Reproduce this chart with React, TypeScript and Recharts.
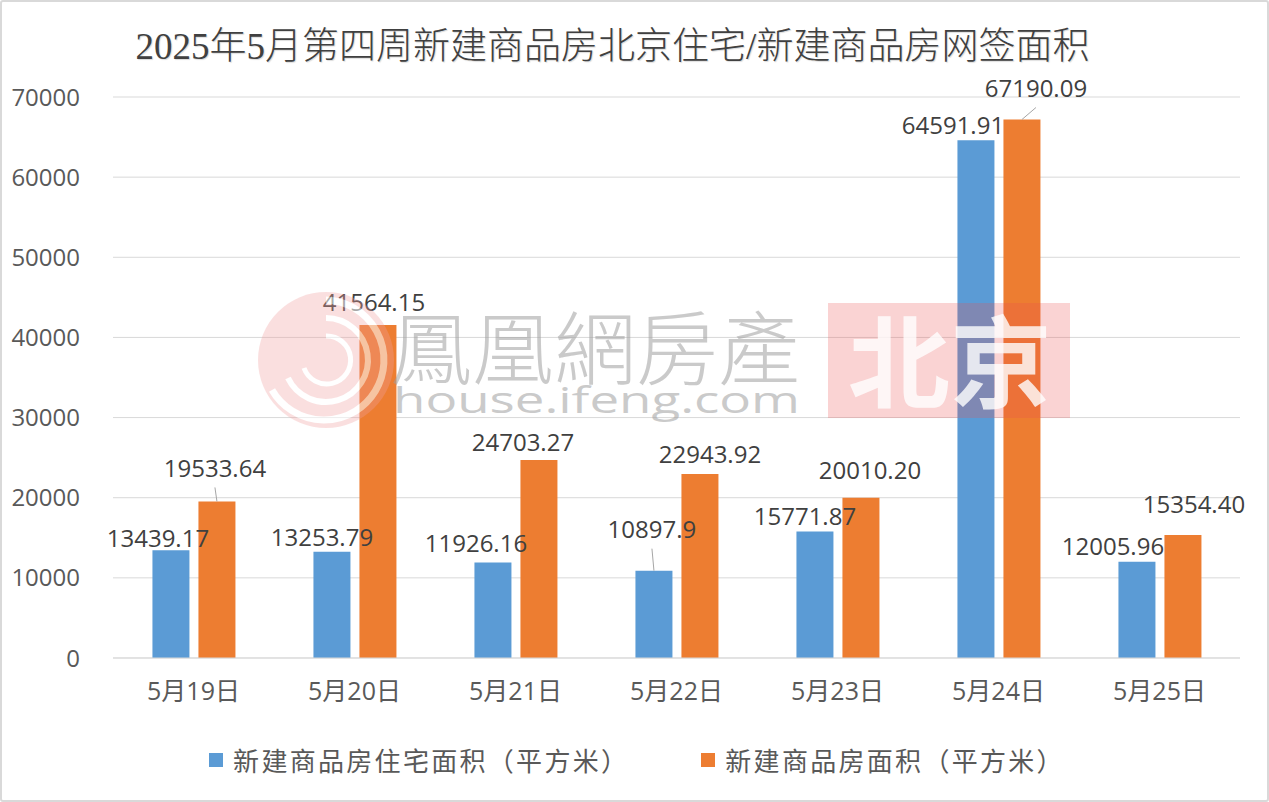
import React from 'react';
import { BarChart, Bar, XAxis, YAxis, CartesianGrid, LabelList, Legend } from 'recharts';

const categories = ['5月19日', '5月20日', '5月21日', '5月22日', '5月23日', '5月24日', '5月25日'];
const residentialArea = [13439.17, 13253.79, 11926.16, 10897.9, 15771.87, 64591.91, 12005.96];
const totalArea = [19533.64, 41564.15, 24703.27, 22943.92, 20010.2, 67190.09, 15354.4];
const yTicks = [0, 10000, 20000, 30000, 40000, 50000, 60000, 70000];
const edgeTicks = [0, 1, 2, 3, 4, 5, 6, 7];
const seriesNames = ['新建商品房住宅面积（平方米）', '新建商品房面积（平方米）'];
const titleText = '2025年5月第四周新建商品房北京住宅/新建商品房网签面积';

const data = categories.map((date, i) => ({
  date,
  residential: residentialArea[i],
  total: totalArea[i],
}));

const BLUE = '#5b9bd5';
const ORANGE = '#ed7d31';
const GRID = '#d9d9d9';
const NUM_FONT = "'Open Sans', 'Noto Sans CJK SC', sans-serif";
const CJK_FONT = "'Noto Sans CJK SC', 'Open Sans', sans-serif";

// label placement tweaks (dx, distance above bar top, leader line) imitating the original layout
const blueLabelLayout: [number, number, boolean][] = [
  [-13, 13, false], [-10, 15, false], [-17, 20, false], [-2, 42, true],
  [-10, 16, false], [-23, 16, false], [-24, 16, false],
];
const orangeLabelLayout: [number, number, boolean][] = [
  [-2, 34, true], [-4, 23, false], [-16, 19, false], [10, 21, false],
  [9, 28, false], [14, 32, true], [11, 31, false],
];

const makeLabel = (layout: [number, number, boolean][], fmt: (v: number) => string) => (props: any) => {
  const { x, y, width, value, index } = props;
  const [dx, up, leader] = layout[index] || [0, 16, false];
  const cx = Number(x) + Number(width) / 2;
  const top = Number(y);
  const tx = cx + dx;
  const ty = top - up;
  return (
    <g>
      {leader && (
        <line x1={cx} y1={top} x2={tx} y2={ty + 20} stroke="#a6a6a6" strokeWidth={1} />
      )}
      <text
        x={tx}
        y={ty}
        textAnchor="middle"
        dominantBaseline="central"
        fill="#404040"
        fontSize={24}
        fontFamily={NUM_FONT}
      >
        {fmt(Number(value))}
      </text>
    </g>
  );
};

const renderLegend = () => (
  <div
    style={{
      height: 40,
      display: 'flex',
      justifyContent: 'center',
      alignItems: 'center',
      transform: 'translateX(17px)',
      fontFamily: CJK_FONT,
      fontSize: 26,
      letterSpacing: '2.3px',
      color: '#595959',
    }}
  >
    {[BLUE, ORANGE].map((c, i) => (
      <div key={i} style={{ display: 'flex', alignItems: 'center', marginLeft: i ? 72 : 0 }}>
        <span style={{ width: 14, height: 14, background: c, display: 'inline-block', marginRight: 10 }} />
        <span style={{ lineHeight: '40px' }}>{seriesNames[i]}</span>
      </div>
    ))}
  </div>
);

const Watermark = () => (
  <svg
    width={1269}
    height={802}
    style={{ position: 'absolute', left: 0, top: 0, pointerEvents: 'none' }}
  >
    <g opacity={0.55}>
      <circle cx={326} cy={360} r={68} fill="#f2a0a0" opacity={0.6} />
      <path d="M326 300 A60 60 0 1 1 272 390" fill="none" stroke="#fff" strokeWidth={7} />
      <path d="M326 318 A42 42 0 1 1 288 378" fill="none" stroke="#fff" strokeWidth={6} />
      <path d="M326 336 A24 24 0 1 1 304 368" fill="none" stroke="#fff" strokeWidth={5} />
    </g>
    <text
      x={390}
      y={378}
      fontSize={80}
      textLength={410}
      lengthAdjust="spacingAndGlyphs"
      fill="#a0a0a0"
      opacity={0.55}
      fontFamily="'Noto Sans CJK TC', 'Noto Sans CJK SC', sans-serif"
      fontWeight={300}
    >
      鳳凰網房產
    </text>
    <text
      x={393}
      y={413}
      fontSize={36}
      textLength={407}
      lengthAdjust="spacingAndGlyphs"
      fill="#a0a0a0"
      opacity={0.55}
      fontFamily={NUM_FONT}
    >
      house.ifeng.com
    </text>
    <rect x={828} y={303} width={242} height={115} fill="rgb(236,80,80)" opacity={0.25} />
    <text
      x={848}
      y={400}
      fontSize={100}
      textLength={204}
      lengthAdjust="spacingAndGlyphs"
      fill="#ffffff"
      opacity={0.8}
      fontWeight={700}
      fontFamily={CJK_FONT}
    >
      北京
    </text>
  </svg>
);

export default function App() {
  return (
    <div
      style={{
        position: 'absolute',
        left: 0,
        top: 0,
        width: 1269,
        height: 802,
        background: '#fff',
        overflow: 'hidden',
      }}
    >
      <div
        style={{
          position: 'absolute',
          left: 0,
          top: 24,
          width: 1225,
          textAlign: 'center',
          fontFamily: "'Liberation Serif', 'Noto Sans CJK SC', serif",
          fontSize: 37,
          lineHeight: '46px',
          color: '#404040',
          fontWeight: 300,
          textShadow: '1px 1px 1px rgba(0,0,0,0.15)',
          whiteSpace: 'nowrap',
        }}
      >
        {titleText}
      </div>
      <BarChart
        width={1269}
        height={802}
        data={data}
        margin={{ top: 97, right: 29, bottom: 22, left: 0 }}
        barCategoryGap="24.5%"
        barGap={9}
      >
        <CartesianGrid vertical={false} stroke={GRID} xAxisId="cat" />
        <XAxis
          xAxisId="edges"
          type="number"
          domain={[0, 7]}
          ticks={edgeTicks}
          tick={false}
          axisLine={false}
          tickLine={{ stroke: GRID }}
          tickSize={8}
          height={0}
        />
        <XAxis
          xAxisId="cat"
          dataKey="date"
          height={82}
          axisLine={{ stroke: GRID }}
          tickLine={false}
          tickSize={0}
          tickMargin={24}
          tick={{ fill: '#595959', fontSize: 25, fontFamily: NUM_FONT }}
        />
        <YAxis
          width={113}
          domain={[0, 70000]}
          ticks={yTicks}
          axisLine={false}
          tickLine={false}
          tickSize={0}
          tickMargin={33}
          tick={{ fill: '#595959', fontSize: 24, fontFamily: NUM_FONT }}
        />
        <Legend verticalAlign="bottom" content={renderLegend} />
        <Bar xAxisId="cat" dataKey="residential" name={seriesNames[0]} fill={BLUE} isAnimationActive={false}>
          <LabelList dataKey="residential" content={makeLabel(blueLabelLayout, (v) => String(v))} />
        </Bar>
        <Bar xAxisId="cat" dataKey="total" name={seriesNames[1]} fill={ORANGE} isAnimationActive={false}>
          <LabelList dataKey="total" content={makeLabel(orangeLabelLayout, (v) => v.toFixed(2))} />
        </Bar>
      </BarChart>
      <Watermark />
      <div
        style={{
          position: 'absolute',
          left: 0,
          top: 0,
          width: 1269,
          height: 802,
          boxSizing: 'border-box',
          border: '2px solid #d9d9d9',
          borderRadius: 3,
          pointerEvents: 'none',
        }}
      />
    </div>
  );
}
